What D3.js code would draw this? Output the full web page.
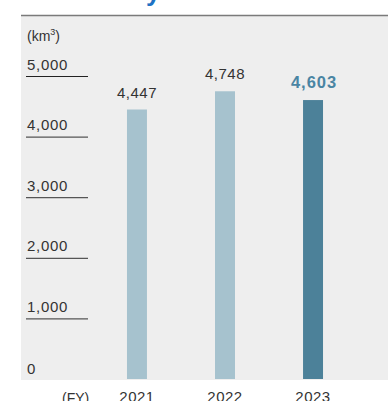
<!DOCTYPE html>
<html>
<head>
<meta charset="utf-8">
<script src="https://cdn.jsdelivr.net/npm/d3@7"></script>
<style>
  html, body { margin: 0; padding: 0; background: #ffffff; }
  svg { display: block; }
  text { font-family: "Liberation Sans", Arial, Helvetica, sans-serif; }
</style>
</head>
<body>
<svg id="chart" width="388" height="401"></svg>
<script>
const categories = ["2021", "2022", "2023"];
const values = [4447, 4748, 4603];
const valueLabels = ["4,447", "4,748", "4,603"];
const tickValues = [0, 1000, 2000, 3000, 4000, 5000];
const tickLabels = ["0", "1,000", "2,000", "3,000", "4,000", "5,000"];
const unitLabel = "(km³)";
const axisLabel = "(FY)";

const W = 388, H = 401;
const svg = d3.select("#chart");

// panel
const panel = { left: 21, top: 15, right: 388, bottom: 380 };
svg.append("rect")
  .attr("x", panel.left).attr("y", panel.top)
  .attr("width", panel.right - panel.left).attr("height", panel.bottom - panel.top)
  .attr("fill", "#eeeeee");
svg.append("line")
  .attr("x1", panel.left).attr("x2", panel.right)
  .attr("y1", panel.top + 0.5).attr("y2", panel.top + 0.5)
  .attr("stroke", "#7a7a7a").attr("stroke-width", 1.5);

// title fragment (descender of a cropped title above)
svg.append("text")
  .attr("x", 146).attr("y", 1)
  .attr("fill", "#1f72c4")
  .attr("font-size", 26).attr("font-weight", "bold")
  .text("y");

const y = d3.scaleLinear().domain([0, 5000]).range([379, 76]);
const x = d3.scaleBand().domain(categories).range([93, 357]).paddingInner(0.773).paddingOuter(0.386);

// unit
svg.append("text")
  .attr("x", 27).attr("y", 41)
  .attr("font-size", 14).attr("fill", "#333")
  .text("(km")
  .append("tspan").attr("font-size", 9).attr("dy", -6).text("3")
  .select(function(){ return this.parentNode; })
  .append("tspan").attr("dy", 6).attr("font-size", 14).text(")");

// y ticks
const yAxis = d3.axisLeft(y).tickValues(tickValues).tickSize(0)
  .tickFormat((d, i) => tickLabels[i]);
const gy = svg.append("g").call(yAxis);
gy.select(".domain").remove();
gy.selectAll(".tick text")
  .attr("x", 27).attr("dy", -7)
  .attr("text-anchor", "start")
  .attr("font-size", 15)
  .attr("letter-spacing", 0.7)
  .attr("font-family", "Liberation Sans, Arial, sans-serif")
  .attr("fill", "#333");
gy.selectAll(".tick").filter(d => d !== 0)
  .append("line")
  .attr("x1", 26).attr("x2", 88)
  .attr("stroke", (d) => d === 5000 ? "#222" : "#555")
  .attr("stroke-width", 1.2);
gy.selectAll(".tick").filter(d => d === 0).select("text").attr("dy", -6);

// bars
const colors = ["#a6c2ce", "#a6c2ce", "#4c8199"];
svg.selectAll("rect.bar").data(values).enter().append("rect")
  .attr("class", "bar")
  .attr("x", (d, i) => x(categories[i]))
  .attr("width", x.bandwidth())
  .attr("y", d => y(d))
  .attr("height", d => y(0) - y(d))
  .attr("fill", (d, i) => colors[i]);

// value labels
svg.selectAll("text.val").data(values).enter().append("text")
  .attr("class", "val")
  .attr("x", (d, i) => x(categories[i]) + x.bandwidth() / 2 + (i === 2 ? 1 : 0))
  .attr("y", d => y(d) - 12)
  .attr("text-anchor", "middle")
  .attr("font-size", (d, i) => i === 2 ? 16.5 : 15)
  .attr("letter-spacing", (d, i) => i === 2 ? 1 : 0.5)
  .attr("font-weight", (d, i) => i === 2 ? "bold" : "normal")
  .attr("fill", (d, i) => i === 2 ? "#4a85a3" : "#333")
  .text((d, i) => valueLabels[i]);

// x axis labels
const xAxis = d3.axisBottom(x).tickSize(0);
const gx = svg.append("g").attr("transform", "translate(0,390)").call(xAxis);
gx.select(".domain").remove();
gx.selectAll(".tick text")
  .attr("y", 0).attr("dy", "0.78em")
  .attr("font-size", 15)
  .attr("letter-spacing", 0.5)
  .attr("font-family", "Liberation Sans, Arial, sans-serif")
  .attr("fill", "#333");
svg.append("text")
  .attr("x", 62).attr("y", 390).attr("dy", "0.95em")
  .attr("font-size", 14).attr("fill", "#333")
  .text(axisLabel);
</script>
</body>
</html>
